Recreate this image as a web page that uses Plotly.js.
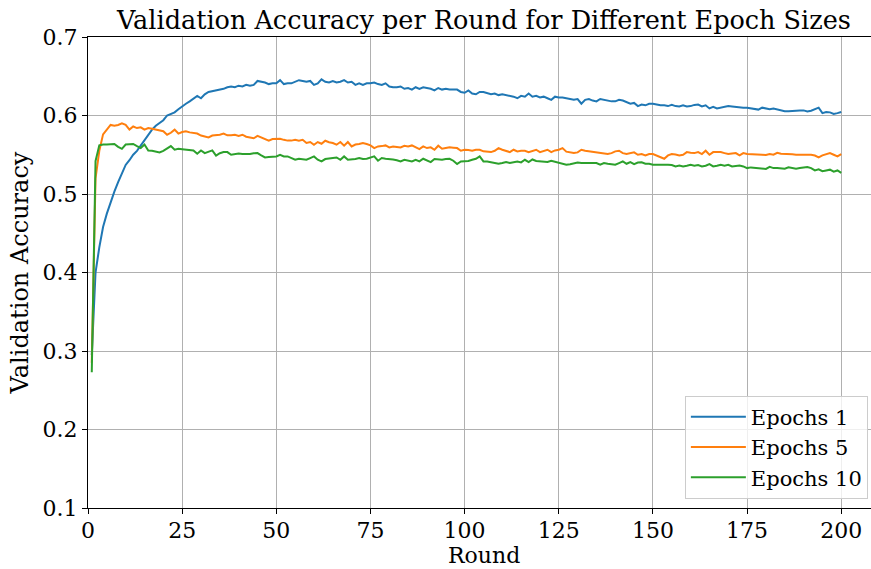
<!DOCTYPE html>
<html>
<head>
<meta charset="utf-8">
<script src="https://cdn.plot.ly/plotly-3.0.1.min.js"></script>
<style>html,body{margin:0;padding:0;background:#fff;overflow:hidden}#chart{width:871px;height:569px}</style>
</head>
<body>
<div id="chart"></div>
<script>
const seriesNames = ["Epochs 1", "Epochs 5", "Epochs 10"];
const seriesColors = ["#1f77b4", "#ff7f0e", "#2ca02c"];

const epochs1 = [
0.295,0.400,0.432,0.458,0.475,0.490,0.503,0.515,0.527,0.537,
0.543,0.550,0.555,0.562,0.569,0.575,0.582,0.587,0.590,0.594,
0.600,0.602,0.604,0.608,0.612,0.615,0.618,0.622,0.625,0.622,
0.627,0.630,0.631,0.632,0.633,0.634,0.636,0.637,0.636,0.638,
0.637,0.639,0.638,0.639,0.644,0.643,0.642,0.640,0.641,0.641,
0.645,0.640,0.641,0.641,0.643,0.645,0.644,0.643,0.644,0.639,
0.641,0.646,0.643,0.642,0.644,0.642,0.643,0.645,0.642,0.643,
0.639,0.641,0.639,0.641,0.641,0.642,0.640,0.639,0.641,0.637,
0.636,0.636,0.637,0.634,0.635,0.633,0.636,0.634,0.636,0.635,
0.634,0.632,0.635,0.633,0.634,0.633,0.633,0.633,0.630,0.629,
0.632,0.628,0.627,0.630,0.630,0.628,0.627,0.628,0.626,0.627,
0.626,0.625,0.624,0.622,0.625,0.624,0.628,0.624,0.625,0.623,
0.624,0.622,0.620,0.624,0.623,0.623,0.622,0.621,0.620,0.621,
0.615,0.620,0.621,0.619,0.618,0.621,0.620,0.619,0.618,0.618,
0.620,0.619,0.617,0.615,0.616,0.612,0.614,0.613,0.615,0.615,
0.614,0.613,0.613,0.612,0.6135,0.612,0.6115,0.613,0.6115,0.612,
0.6135,0.614,0.6115,0.613,0.609,0.611,0.609,0.610,0.6115,0.612,
0.6115,0.611,0.610,0.610,0.610,0.609,0.608,0.6075,0.610,0.609,
0.608,0.609,0.608,0.6065,0.6055,0.6055,0.606,0.6065,0.6065,0.6065,
0.605,0.606,0.608,0.610,0.603,0.6045,0.604,0.602,0.603,0.6045
];

const epochs5 = [
0.285,0.520,0.555,0.576,0.582,0.588,0.587,0.588,0.590,0.588,
0.582,0.586,0.584,0.585,0.582,0.584,0.583,0.582,0.581,0.580,
0.5755,0.578,0.582,0.577,0.579,0.580,0.5785,0.578,0.577,0.5745,
0.573,0.572,0.5745,0.575,0.5755,0.577,0.5747,0.575,0.5755,0.574,
0.5755,0.573,0.572,0.571,0.574,0.572,0.570,0.568,0.570,0.570,
0.5704,0.569,0.568,0.568,0.569,0.568,0.569,0.565,0.5662,0.5628,
0.5662,0.564,0.5679,0.566,0.5649,0.5628,0.5662,0.5615,0.5662,0.5606,
0.563,0.5636,0.5649,0.5636,0.5619,0.5585,0.5606,0.561,0.5619,0.5594,
0.5606,0.560,0.5594,0.5615,0.5606,0.5619,0.559,0.5572,0.5606,0.5585,
0.5594,0.5564,0.5615,0.5577,0.5585,0.5594,0.559,0.5585,0.5551,0.5564,
0.556,0.5551,0.5564,0.5564,0.5543,0.554,0.5534,0.5551,0.5585,0.5564,
0.555,0.5534,0.5564,0.5543,0.555,0.5551,0.5534,0.5551,0.5564,0.5534,
0.555,0.5564,0.5534,0.5555,0.5564,0.5585,0.554,0.5534,0.5521,0.553,
0.5564,0.555,0.5543,0.5543,0.5534,0.553,0.5521,0.5509,0.5521,0.5543,
0.5551,0.5521,0.5509,0.552,0.553,0.550,0.5509,0.5492,0.5509,0.551,
0.5492,0.5466,0.5449,0.5492,0.5509,0.5504,0.5492,0.550,0.5534,0.5525,
0.5521,0.5534,0.5509,0.5551,0.550,0.5534,0.5534,0.5534,0.5521,0.5509,
0.5515,0.5521,0.5492,0.5521,0.551,0.5509,0.5509,0.550,0.550,0.5496,
0.5509,0.550,0.5525,0.5513,0.5513,0.5509,0.5505,0.550,0.550,0.550,
0.550,0.550,0.549,0.5466,0.5492,0.5509,0.5521,0.550,0.5479,0.5509
];

const epochs10 = [
0.273,0.542,0.562,0.563,0.563,0.563,0.5637,0.560,0.5575,0.563,
0.5637,0.5637,0.561,0.5585,0.563,0.5555,0.555,0.554,0.553,0.555,
0.5585,0.561,0.5565,0.5575,0.557,0.5565,0.556,0.5555,0.5513,0.5555,
0.552,0.554,0.5555,0.5488,0.552,0.5534,0.5534,0.550,0.551,0.5515,
0.5509,0.5509,0.5509,0.552,0.5521,0.5492,0.5466,0.547,0.5479,0.5479,
0.550,0.5479,0.5479,0.546,0.5436,0.5449,0.544,0.5436,0.5458,0.5479,
0.5436,0.5415,0.5445,0.545,0.5458,0.5466,0.5436,0.5479,0.5436,0.544,
0.5445,0.5458,0.5445,0.545,0.5466,0.5479,0.5424,0.5458,0.5449,0.5449,
0.544,0.543,0.5415,0.5436,0.5425,0.5415,0.5436,0.5415,0.5449,0.543,
0.5407,0.5445,0.5436,0.5436,0.5445,0.5449,0.5424,0.5381,0.5415,0.5415,
0.542,0.5436,0.5449,0.5479,0.5415,0.5415,0.5407,0.539,0.5385,0.5394,
0.5407,0.5394,0.540,0.5415,0.5403,0.5436,0.5407,0.544,0.542,0.5415,
0.541,0.5407,0.5424,0.541,0.5395,0.5381,0.5373,0.538,0.5394,0.540,
0.5394,0.5394,0.5385,0.539,0.5394,0.5373,0.5394,0.5385,0.5381,0.5373,
0.5394,0.5415,0.5385,0.5407,0.5381,0.540,0.5403,0.5385,0.5385,0.5373,
0.5373,0.5373,0.5381,0.5373,0.537,0.5351,0.5364,0.5351,0.536,0.5373,
0.536,0.5368,0.5351,0.536,0.5381,0.5351,0.536,0.5373,0.536,0.5373,
0.5351,0.536,0.5364,0.5351,0.533,0.5339,0.5335,0.533,0.533,0.532,
0.5345,0.533,0.533,0.5325,0.5322,0.5339,0.533,0.5322,0.533,0.5335,
0.5345,0.533,0.530,0.5315,0.529,0.530,0.531,0.5285,0.530,0.527
];

const xTicks = [0, 25, 50, 75, 100, 125, 150, 175, 200];
const yTicks = [0.1, 0.2, 0.3, 0.4, 0.5, 0.6, 0.7];

const rounds = epochs1.map((_, i) => i + 1);
const allSeries = [epochs1, epochs5, epochs10];
const FONT = "DejaVu Serif";

const traces = allSeries.map((ys, k) => ({
  x: rounds, y: ys, type: "scatter", mode: "lines",
  name: seriesNames[k], line: {color: seriesColors[k], width: 2}
}));

const layout = {
  width: 871, height: 569,
  margin: {l: 88, r: 0, t: 37, b: 61, pad: 0},
  paper_bgcolor: "#fff", plot_bgcolor: "#fff",
  font: {family: FONT, color: "#000", size: 22},
  title: {text: "Validation Accuracy per Round for Different Epoch Sizes",
          font: {family: FONT, size: 25.5, color: "#000"},
          xref: "paper", x: 0.5057, xanchor: "center",
          yref: "container", y: 0.964, yanchor: "middle"},
  xaxis: {range: [0, 207.9], tickvals: xTicks, ticks: "outside", ticklen: 5, tickwidth: 1,
          ticklabelstandoff: -2,
          tickcolor: "#000", showline: true, linecolor: "#000", linewidth: 1, mirror: true,
          showgrid: true, gridcolor: "#b0b0b0", gridwidth: 1, zeroline: false,
          tickfont: {family: FONT, size: 22, color: "#000"}},
  yaxis: {range: [0.1, 0.7], tickvals: yTicks, tickformat: ".1f", ticks: "outside", ticklen: 5, tickwidth: 1,
          tickcolor: "#000", showline: true, linecolor: "#000", linewidth: 1, mirror: false,
          showgrid: true, gridcolor: "#b0b0b0", gridwidth: 1, zeroline: false,
          tickfont: {family: FONT, size: 22, color: "#000"},
          title: {text: "Validation Accuracy", font: {family: FONT, size: 24, color: "#000"}, standoff: 7}},
  annotations: [{text: "Round", xref: "paper", yref: "paper", x: 0.5057, y: -0.1289,
                 xanchor: "center", yanchor: "bottom", showarrow: false, borderpad: 0,
                 font: {family: FONT, size: 22, color: "#000"}}],
  legend: {x: 0.996, y: 0.02, xanchor: "right", yanchor: "bottom",
           bgcolor: "rgba(255,255,255,0.8)", bordercolor: "#cccccc", borderwidth: 1,
           itemwidth: 55,
           font: {family: FONT, size: 21, color: "#000"}, tracegroupgap: 0},
  showlegend: true
};

Plotly.newPlot("chart", traces, layout, {displayModeBar: false, staticPlot: true});
</script>
</body>
</html>
